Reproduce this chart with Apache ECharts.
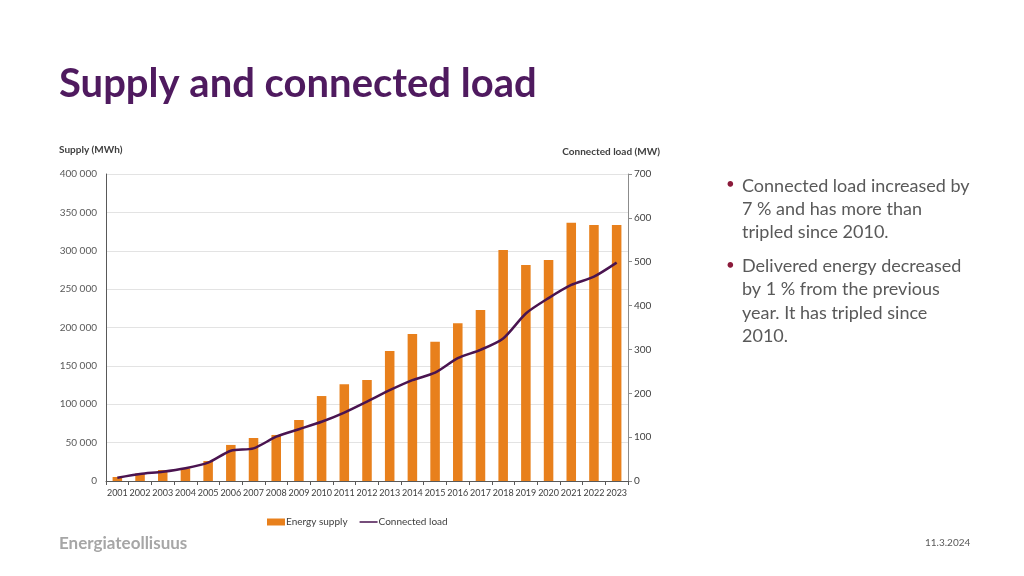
<!DOCTYPE html>
<html>
<head>
<meta charset="utf-8">
<script src="https://cdn.jsdelivr.net/npm/echarts@6/dist/echarts.min.js"></script>
<style>
html,body{margin:0;padding:0;background:#fff;}
#c{width:1024px;height:576px;}
</style>
</head>
<body>
<div id="c"></div>
<script>
const years = ['2001','2002','2003','2004','2005','2006','2007','2008','2009','2010','2011','2012','2013','2014','2015','2016','2017','2018','2019','2020','2021','2022','2023'];
const energySupply = [5200,10000,14300,16500,26000,47000,56000,60000,79500,110700,126000,131600,169400,191500,181500,205500,222800,301000,281400,288000,336600,333600,333600];
const connectedLoad = [7.5,16,21,29,42,69,74.5,101,118,135,156,181,207,230,247,280,299,325,382,417,447,466,498];
const leftTicks = [0,50000,100000,150000,200000,250000,300000,350000,400000];
const bullets = [
  ['Connected load increased by','7 % and has more than','tripled since 2010.'],
  ['Delivered energy decreased','by 1 % from the previous','year. It has tripled since','2010.']
];

const font = 'Lato, "Open Sans", sans-serif';
const chart = echarts.init(document.getElementById('c'));
const fmt = v => String(v).replace(/\B(?=(\d{3})+(?!\d))/g, ' ');

const graphics = [
  {type:'text', left:59, top:64, style:{text:'Supply and connected load', font:'bold 40px ' + font, fill:'#4F1A5F'}},
  {type:'text', left:59, top:145, style:{text:'Supply (MWh)', font:'bold 10px ' + font, fill:'#404040'}},
  {type:'text', right:1024-660, top:147, style:{text:'Connected load (MW)', font:'bold 10px ' + font, fill:'#404040'}},
  {type:'text', left:59, top:535, style:{text:'Energiateollisuus', font:'bold 17px ' + font, fill:'#A6A6A6'}},
  {type:'text', left:925, top:538, style:{text:'11.3.2024', font:'10px ' + font, fill:'#595959'}}
];
let y = 177;
bullets.forEach(b => {
  graphics.push({type:'text', left:726, top:y, style:{text:'•', font:'15px ' + font, fill:'#8B1A3A'}});
  b.forEach(line => {
    graphics.push({type:'text', left:742, top:y, style:{text:line, font:'18px ' + font, fill:'#595959'}});
    y += 23.2;
  });
  y += 10.8;
});

chart.setOption({
  animation:false,
  textStyle:{fontFamily:font},
  grid:{left:106, right:396, top:174, bottom:95},
  legend:{
    top:512, left:262, itemGap:12, itemWidth:18, itemHeight:7,
    textStyle:{fontSize:10, color:'#404040', fontFamily:font, padding:[0,0,0,-4]},
    data:[
      {name:'Energy supply', icon:'rect'},
      {name:'Connected load', icon:'path://M0,0 L0.01,0 M0,3.2 L22,3.2 L22,4.8 L0,4.8 Z M0,8 L0.01,8', itemStyle:{color:'#4A1450'}}
    ]
  },
  xAxis:{
    type:'category', data:years,
    axisLine:{lineStyle:{color:'#595959'}},
    axisTick:{show:true, lineStyle:{color:'#595959'}, length:4},
    axisLabel:{fontSize:9, color:'#404040', margin:8, interval:0}
  },
  yAxis:[
    {type:'value', min:0, max:400000, interval:50000,
     axisLine:{show:true, lineStyle:{color:'#595959'}},
     axisTick:{show:false},
     splitLine:{lineStyle:{color:'#E3E3E3'}},
     axisLabel:{fontSize:10, color:'#595959', margin:9, formatter:fmt}},
    {type:'value', min:0, max:700, interval:100,
     axisLine:{show:true, lineStyle:{color:'#8C8C8C'}},
     axisTick:{show:true, lineStyle:{color:'#8C8C8C'}, length:4},
     splitLine:{show:false},
     axisLabel:{fontSize:10, color:'#404040', margin:6}}
  ],
  series:[
    {name:'Energy supply', type:'bar', data:energySupply, barWidth:'42%', yAxisIndex:0,
     itemStyle:{color:'#E8801C'}},
    {name:'Connected load', type:'line', data:connectedLoad, yAxisIndex:1, smooth:0.25,
     symbol:'none', lineStyle:{color:'#4A1450', width:2.5}, itemStyle:{color:'#4A1450'}}
  ],
  graphic:graphics
});
</script>
</body>
</html>
